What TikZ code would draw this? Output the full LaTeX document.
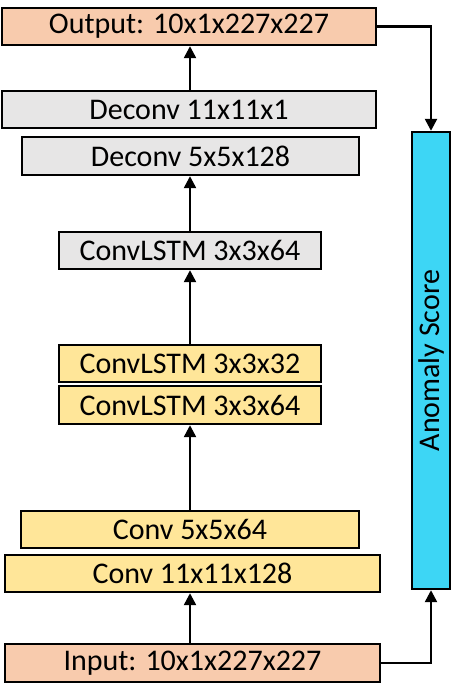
\documentclass[tikz,border=0pt]{standalone}
\usepackage{fontspec}
\setmainfont{Carlito}
\usetikzlibrary{arrows.meta}
\definecolor{peach}{HTML}{F8CBAD}
\definecolor{lgray}{HTML}{E7E6E6}
\definecolor{lyellow}{HTML}{FFE699}
\definecolor{cyanbox}{HTML}{3DD6F5}
\tikzset{
  layer/.style={draw=black, line width=2.4pt, inner sep=0pt, minimum height=37pt,
    font=\fontsize{30}{35}\selectfont, text=black},
  arr/.style={line width=2.4pt, -{Triangle[length=12pt,width=12pt]}}
}
\begin{document}
\begin{tikzpicture}[x=1pt,y=-1pt]
\useasboundingbox (0,0) rectangle (466,699);
\node[layer, fill=peach, minimum width=374pt] (out) at (189,26.5) {Output: 10x1x227x227};
\node[layer, fill=lgray, minimum width=374pt] (dc11) at (189,109.5) {Deconv 11x11x1};
\node[layer, fill=lgray, minimum width=337pt, minimum height=38pt] (dc5) at (190.5,156) {Deconv 5x5x128};
\node[layer, fill=lgray, minimum width=262pt] (lg) at (190,250.5) {ConvLSTM 3x3x64};
\node[layer, fill=lyellow, minimum width=262pt] (l32) at (190,363.5) {ConvLSTM 3x3x32};
\node[layer, fill=lyellow, minimum width=262pt, minimum height=38pt] (l64) at (190,405) {ConvLSTM 3x3x64};
\node[layer, fill=lyellow, minimum width=338pt] (c5) at (190,529.5) {Conv 5x5x64};
\node[layer, fill=lyellow, minimum width=375pt] (c11) at (192.5,573.5) {Conv 11x11x128};
\node[layer, fill=peach, minimum width=375pt, minimum height=38pt] (in) at (192.5,663) {Input: 10x1x227x227};
\node[draw=black, line width=2.4pt, fill=cyanbox, minimum width=38pt, minimum height=457pt, inner sep=0pt] (anom) at (431,360.5) {};
\node[rotate=90, font=\fontsize{30}{35}\selectfont] (anomtext) at (anom.center) {Anomaly Score};
\draw[arr] (in.north -| l64.center) -- (c11.south -| l64.center);
\draw[arr] (c5.north -| l64.center) -- (l64.south);
\draw[arr] (l32.north) -- (lg.south);
\draw[arr] (lg.north) -- (dc5.south -| lg.center);
\draw[arr] (dc11.north -| lg.center) -- (out.south -| lg.center);
\draw[arr] (out.east) -| (anom.north);
\draw[arr] (in.east) -| (anom.south);
\end{tikzpicture}
\end{document}
